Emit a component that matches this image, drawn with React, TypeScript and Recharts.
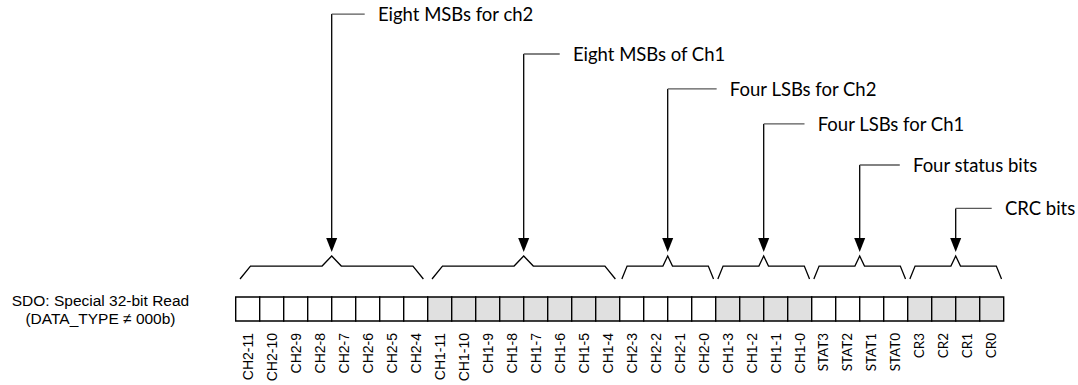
import { ComposedChart, Line, ReferenceArea, ReferenceLine, Scatter, XAxis, YAxis } from "recharts";

// bit field contents, MSB first
const bitLabels = [
  "CH2-11", "CH2-10", "CH2-9", "CH2-8", "CH2-7", "CH2-6", "CH2-5", "CH2-4",
  "CH1-11", "CH1-10", "CH1-9", "CH1-8", "CH1-7", "CH1-6", "CH1-5", "CH1-4",
  "CH2-3", "CH2-2", "CH2-1", "CH2-0",
  "CH1-3", "CH1-2", "CH1-1", "CH1-0",
  "STAT3", "STAT2", "STAT1", "STAT0",
  "CR3", "CR2", "CR1", "CR0",
];
const groupNames = ["Eight MSBs for ch2", "Eight MSBs of Ch1", "Four LSBs for Ch2", "Four LSBs for Ch1", "Four status bits", "CRC bits"];
const groupSizes = [8, 8, 4, 4, 4, 4];
const groupShaded = [false, true, false, true, false, true];
const rowTitle = ["SDO: Special 32-bit Read", "(DATA_TYPE \u2260 000b)"];

// layout (in bit units: 1 = one cell)
const W = 1078;
const H = 385;
const AXIS_H = 64;
const UNIT = 24;
const FIRST_BIT_PX = 235.7;
const X_DOMAIN: [number, number] = [-FIRST_BIT_PX / UNIT, (W - FIRST_BIT_PX) / UNIT];
const Y_DOMAIN: [number, number] = [0, (H - AXIS_H) / UNIT];
const BRACE_FOOT = 1.75;
const BRACE_SHOULDER = 2.29;
const BRACE_PEAK = 2.71;
const ARROW_TIP = 2.875;
const leaderLevels = [12.79, 11.125, 9.67, 8.21, 6.5, 4.69];
const leaderLengths = [1.375, 1.5, 2.04, 1.7, 1.67, 1.5];
const TEXT_GAP = 0.55;
const SHADE = "#e0e0e0";

const groups = groupSizes.map((n, g) => {
  const start = groupSizes.slice(0, g).reduce((a, b) => a + b, 0);
  return { start, n, center: start + n / 2, name: groupNames[g], shaded: groupShaded[g] };
});

const bitCenters = bitLabels.map((_, i) => i + 0.5);

const braces = groups.map(({ start, n, center }) => [
  { x: start + 0.0225 * n, y: BRACE_FOOT },
  { x: start + 0.077 * n, y: BRACE_SHOULDER },
  { x: center - 0.05 * n, y: BRACE_SHOULDER },
  { x: center, y: BRACE_PEAK },
  { x: center + 0.05 * n, y: BRACE_SHOULDER },
  { x: start + n - 0.077 * n, y: BRACE_SHOULDER },
  { x: start + n - 0.0225 * n, y: BRACE_FOOT },
]);

const arrowTips = groups.map((g) => ({ x: g.center, y: ARROW_TIP }));
const labelPoints = groups.map((g, k) => ({ x: g.center + leaderLengths[k] + TEXT_GAP, y: leaderLevels[k], label: g.name }));
const titlePoint = [{ x: (100.5 - FIRST_BIT_PX) / UNIT, y: 0.5 }];

const BitTick = (props: any) => {
  const { x, y, payload } = props;
  const i = Math.round(payload.value - 0.5);
  const narrow = i >= 24;
  const ty = y + 4;
  return (
    <text
      x={x}
      y={ty}
      dy={narrow ? 4.8 : 5}
      transform={`rotate(-90 ${x} ${ty})`}
      textAnchor="end"
      fontFamily={narrow ? "Lato" : "'Liberation Sans', Arial"}
      fontSize={narrow ? 13.5 : 14}
      fill="#000"
    >
      {bitLabels[i]}
    </text>
  );
};

const ArrowHead = (props: any) => {
  const { cx, cy } = props;
  return <path d={`M${cx - 5.5},${cy - 14} L${cx + 5.5},${cy - 14} L${cx},${cy} Z`} fill="#000" />;
};

const GroupLabel = (props: any) => {
  const { cx, cy, payload } = props;
  return (
    <text x={cx} y={cy + 6.6} fontFamily="Lato" fontSize={18.5} fill="#000">
      {payload.label}
    </text>
  );
};

const RowTitle = (props: any) => {
  const { cx, cy } = props;
  return (
    <text x={cx} y={cy} textAnchor="middle" fontFamily="'Liberation Sans', Arial" fontSize={15.5} fill="#000">
      <tspan x={cx} dy={-3}>{rowTitle[0]}</tspan>
      <tspan x={cx} dy={17.5}>{rowTitle[1]}</tspan>
    </text>
  );
};

export default function App() {
  return (
    <div style={{ position: "absolute", left: 0, top: 0, width: W, height: H, background: "#fff" }}>
      <ComposedChart width={W} height={H} data={bitCenters.map((x) => ({ x }))} margin={{ top: 0, right: 0, bottom: 0, left: 0 }}>
        <XAxis
          type="number"
          dataKey="x"
          domain={X_DOMAIN}
          ticks={bitCenters}
          interval={0}
          axisLine={false}
          tickLine={false}
          height={AXIS_H}
          tick={<BitTick />}
        />
        <YAxis type="number" dataKey="y" domain={Y_DOMAIN} hide />

        {bitLabels.map((_, i) => {
          const g = groups.find((gr) => i >= gr.start && i < gr.start + gr.n)!;
          return (
            <ReferenceArea
              key={i}
              x1={i}
              x2={i + 1}
              y1={0}
              y2={1}
              fill={g.shaded ? SHADE : "#fff"}
              fillOpacity={1}
              stroke="#000"
              strokeWidth={1.4}
            />
          );
        })}

        {braces.map((pts, k) => (
          <Line
            key={`brace-${k}`}
            data={pts}
            dataKey="y"
            type="linear"
            stroke="#000"
            strokeWidth={1.3}
            dot={false}
            activeDot={false}
            isAnimationActive={false}
          />
        ))}

        {groups.map((g, k) => (
          <ReferenceLine
            key={`v-${k}`}
            segment={[
              { x: g.center, y: leaderLevels[k] },
              { x: g.center, y: ARROW_TIP + 0.3 },
            ]}
            stroke="#000"
            strokeWidth={1.3}
          />
        ))}
        {groups.map((g, k) => (
          <ReferenceLine
            key={`h-${k}`}
            segment={[
              { x: g.center, y: leaderLevels[k] },
              { x: g.center + leaderLengths[k], y: leaderLevels[k] },
            ]}
            stroke="#595959"
            strokeWidth={1.3}
          />
        ))}

        <Scatter data={arrowTips} dataKey="y" shape={<ArrowHead />} isAnimationActive={false} />
        <Scatter data={labelPoints} dataKey="y" shape={<GroupLabel />} isAnimationActive={false} />
        <Scatter data={titlePoint} dataKey="y" shape={<RowTitle />} isAnimationActive={false} />
      </ComposedChart>
    </div>
  );
}
